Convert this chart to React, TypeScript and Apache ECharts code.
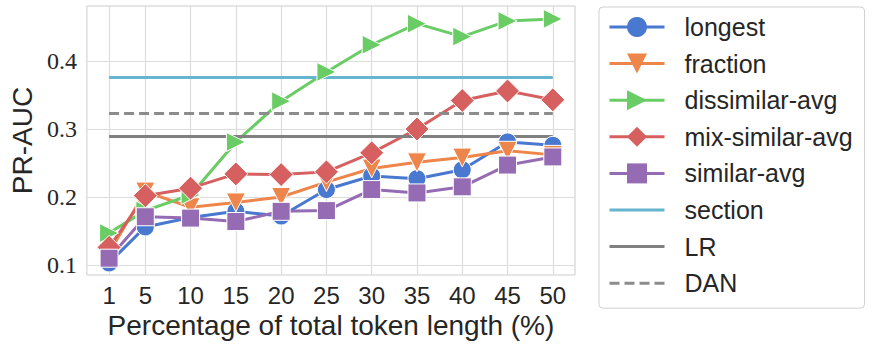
import React, { useEffect, useRef } from "react";
import * as echarts from "echarts";

const xValues = [1, 5, 10, 15, 20, 25, 30, 35, 40, 45, 50];
const longest = [0.103, 0.156, 0.17, 0.179, 0.172, 0.211, 0.231, 0.227, 0.24, 0.281, 0.276];
const fraction = [0.118, 0.208, 0.185, 0.192, 0.2, 0.222, 0.242, 0.251, 0.258, 0.268, 0.262];
const dissimilarAvg = [0.147, 0.18, 0.203, 0.281, 0.341, 0.384, 0.424, 0.455, 0.436, 0.459, 0.462];
const mixSimilarAvg = [0.126, 0.202, 0.213, 0.234, 0.233, 0.237, 0.265, 0.3, 0.342, 0.356, 0.343];
const similarAvg = [0.11, 0.171, 0.169, 0.164, 0.179, 0.18, 0.211, 0.206, 0.215, 0.247, 0.259];
const sectionValue = 0.376;
const lrValue = 0.289;
const danValue = 0.323;
const yTicks = [0.1, 0.2, 0.3, 0.4];

const TEXT = "#262626";

export default function App() {
  const ref = useRef<HTMLDivElement>(null);
  useEffect(() => {
    if (!ref.current) return;
    const chart = echarts.init(ref.current, undefined, { renderer: "svg" });
    const pairs = (ys: number[]) => xValues.map((x, i) => [x, ys[i]]);
    const flat = (v: number) => [
      [xValues[0], v],
      [xValues[xValues.length - 1], v],
    ];
    const markerSeries = (
      name: string,
      ys: number[],
      color: string,
      symbol: string,
      size: number | number[]
    ) => ({
      name,
      type: "line",
      data: pairs(ys),
      symbol,
      symbolSize: size,
      showSymbol: true,
      showAllSymbol: true,
      lineStyle: { color, width: 3, type: "solid" },
      itemStyle: { color, borderColor: "#ffffff", borderWidth: 1, opacity: 1 },
      emphasis: { disabled: true },
    });
    const flatSeries = (name: string, v: number, color: string, type: any) => ({
      name,
      type: "line",
      data: flat(v),
      symbol: "none",
      lineStyle: { color, width: 3, type },
      itemStyle: { color },
      emphasis: { disabled: true },
    });
    const legendNames = [
      "longest",
      "fraction",
      "dissimilar-avg",
      "mix-similar-avg",
      "similar-avg",
      "section",
      "LR",
      "DAN",
    ];
    chart.setOption({
      animation: false,
      backgroundColor: "#ffffff",
      grid: {
        left: 78,
        right: 297,
        top: 6,
        bottom: 72,
        show: true,
        borderColor: "#cccccc",
        borderWidth: 1,
        backgroundColor: "#ffffff",
      },
      legend: {
        orient: "vertical",
        left: 599,
        top: 7,
        padding: [7.5, 12, 12.5, 9],
        itemWidth: 55,
        itemHeight: 25,
        itemGap: 11.6,
        borderColor: "#d0d0d0",
        borderWidth: 1,
        borderRadius: 4,
        backgroundColor: "#ffffff",
        selectedMode: false,
        textStyle: {
          fontFamily: "Liberation Sans",
          fontSize: 25,
          color: TEXT,
          padding: [0, 0, 0, 15],
        },
        data: legendNames.map((n, i) =>
          i >= 5
            ? {
                name: n,
                itemStyle: { opacity: 0 },
                lineStyle: { width: 3, type: n === "DAN" ? [10, 5] : "solid" },
              }
            : {
                name: n,
                itemStyle: { borderWidth: 0 },
                lineStyle: { width: 3, type: "solid" },
              }
        ),
      },
      xAxis: {
        type: "value",
        min: -1.45,
        max: 52.45,
        name: "Percentage of total token length (%)",
        nameLocation: "middle",
        nameGap: 34,
        nameTextStyle: { fontFamily: "Liberation Sans", fontSize: 28, color: TEXT },
        axisLine: { show: false },
        axisTick: { show: false, customValues: xValues },
        axisLabel: {
          customValues: xValues,
          fontFamily: "Liberation Sans",
          fontSize: 24,
          color: TEXT,
          margin: 8,
        },
        splitLine: { show: true, lineStyle: { color: "#dcdcdc", width: 1.2 } },
      },
      yAxis: {
        type: "value",
        min: 0.0853,
        max: 0.481,
        name: "PR-AUC",
        nameLocation: "middle",
        nameGap: 46,
        nameTextStyle: { fontFamily: "Liberation Sans", fontSize: 28, color: TEXT },
        axisLine: { show: false },
        axisTick: { show: false, customValues: yTicks },
        axisLabel: {
          customValues: yTicks,
          fontFamily: "Liberation Serif",
          fontSize: 24,
          color: TEXT,
          margin: 10,
          formatter: (v: number) => v.toFixed(1),
        },
        splitLine: { show: true, lineStyle: { color: "#dcdcdc", width: 1.2 } },
      },
      series: [
        markerSeries("longest", longest, "#4878d0", "circle", 18),
        markerSeries("fraction", fraction, "#ee854a", "path://M0,0L20,0L10,20Z", 19),
        markerSeries("dissimilar-avg", dissimilarAvg, "#6acc64", "path://M0,0L20,10L0,20Z", 19),
        markerSeries("mix-similar-avg", mixSimilarAvg, "#d65f5f", "diamond", 24),
        markerSeries("similar-avg", similarAvg, "#956cb4", "rect", 18),
        flatSeries("section", sectionValue, "#64b5cd", "solid"),
        flatSeries("LR", lrValue, "#808080", "solid"),
        flatSeries("DAN", danValue, "#8c8c8c", [10, 5]),
      ],
    });
    return () => chart.dispose();
  }, []);
  return (
    <div
      ref={ref}
      style={{ position: "fixed", left: 0, top: 0, width: 872, height: 347 }}
    />
  );
}
